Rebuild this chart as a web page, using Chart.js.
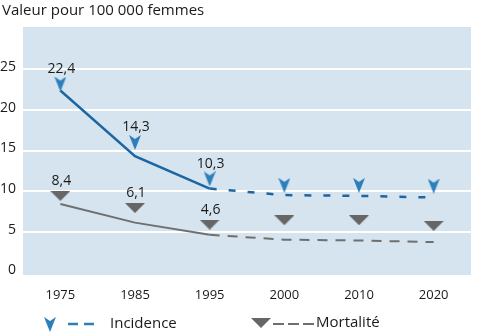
<!DOCTYPE html>
<html>
<head>
<meta charset="utf-8">
<script src="https://cdn.jsdelivr.net/npm/chart.js@4"></script>
<style>
  html, body { margin: 0; padding: 0; background: #fff; }
  #wrap { width: 479px; height: 335px; }
</style>
</head>
<body>
<div id="wrap"><canvas id="chart" width="479" height="335"></canvas></div>
<script>
/* ── Data ─────────────────────────────────────────── */
const years      = ['1975', '1985', '1995', '2000', '2010', '2020'];
const incidence  = [22.4, 14.3, 10.3, 9.5, 9.4, 9.2];
const mortality  = [8.4, 6.1, 4.6, 4.0, 3.9, 3.7];
// where the triangle markers sit on the value axis
const incidenceMarks = [23.2, 16.0, 11.5, 10.7, 10.7, 10.6];
const mortalityMarks = [9.4, 7.9, 5.85, 6.4, 6.4, 5.7];
const yTicks     = [0, 5, 10, 15, 20, 25];
const measured   = 3;   // first three years are observed, the rest projected
const seriesNames = ['Incidence', 'Mortalité'];
const axisTitle  = 'Valeur pour 100 000 femmes';

/* ── Colours ──────────────────────────────────────── */
const BLUE      = '#1d66a4';
const BLUE_MARK = '#2c7fbb';
const GREY      = '#6f6f6f';
const GREY_MARK = '#666666';
const PANEL     = '#d5e4ee';
const TEXT      = '#1a1a1a';
const FONT      = '"Open Sans", sans-serif';

const BLUE_DASH = [7, 12];
const GREY_DASH = [10, 8];

/* ── Marker images ────────────────────────────────── */
function arrowMarker(color) {
  const c = document.createElement('canvas');
  c.width = 12; c.height = 15;
  const g = c.getContext('2d');
  g.fillStyle = color;
  g.beginPath();
  g.moveTo(0, 0); g.lineTo(6, 4); g.lineTo(12, 0); g.lineTo(6, 15);
  g.closePath(); g.fill();
  return c;
}
function triangleMarker(color) {
  const c = document.createElement('canvas');
  c.width = 20; c.height = 10;
  const g = c.getContext('2d');
  g.fillStyle = color;
  g.beginPath();
  g.moveTo(0, 0); g.lineTo(20, 0); g.lineTo(10, 10);
  g.closePath(); g.fill();
  return c;
}
const blueArrow = arrowMarker(BLUE_MARK);
const greyTri   = triangleMarker(GREY_MARK);

function fmtFr(v) { return v.toFixed(1).replace('.', ','); }

/* ── Plugins ──────────────────────────────────────── */
const panel = {
  id: 'panel',
  beforeDraw(chart) {
    const a = chart.chartArea, ctx = chart.ctx;
    ctx.save();
    ctx.fillStyle = PANEL;
    ctx.fillRect(a.left, a.top, a.right - a.left, a.bottom - a.top);
    ctx.restore();
  }
};

const valueLabels = {
  id: 'valueLabels',
  afterDatasetsDraw(chart) {
    const ctx = chart.ctx;
    ctx.save();
    ctx.font = '14px ' + FONT;
    ctx.fillStyle = TEXT;
    ctx.textAlign = 'center';
    ctx.textBaseline = 'middle';
    [[2, incidence], [3, mortality]].forEach(([di, vals]) => {
      chart.getDatasetMeta(di).data.forEach((pt, i) => {
        if (i >= measured) return;
        ctx.fillText(fmtFr(vals[i]), pt.x + 1, pt.y - 15);
      });
    });
    ctx.restore();
  }
};

const headerLegend = {
  id: 'headerLegend',
  afterDraw(chart) {
    const ctx = chart.ctx;
    ctx.save();
    ctx.fillStyle = TEXT;
    ctx.textBaseline = 'middle';
    ctx.textAlign = 'left';
    ctx.font = '15px ' + FONT;
    ctx.fillText(axisTitle, 2, 11);

    // Incidence entry
    ctx.drawImage(blueArrow, 44, 317);
    ctx.strokeStyle = BLUE_MARK;
    ctx.lineWidth = 2.5;
    ctx.setLineDash([10, 6]);
    ctx.beginPath(); ctx.moveTo(68, 324); ctx.lineTo(98, 324); ctx.stroke();
    ctx.fillText(seriesNames[0], 110, 324);

    // Mortalité entry
    ctx.drawImage(greyTri, 251, 318);
    ctx.strokeStyle = GREY;
    ctx.lineWidth = 2;
    ctx.setLineDash([11, 4]);
    ctx.beginPath(); ctx.moveTo(273, 324); ctx.lineTo(316, 324); ctx.stroke();
    ctx.setLineDash([]);
    ctx.fillText(seriesNames[1], 316, 323);
    ctx.restore();
  }
};

/* ── Chart ────────────────────────────────────────── */
Chart.defaults.font.family = FONT;
Chart.defaults.color = TEXT;

new Chart(document.getElementById('chart'), {
  type: 'line',
  data: {
    labels: years,
    datasets: [
      {
        label: seriesNames[0],
        data: incidence,
        borderColor: BLUE,
        borderWidth: 2.5,
        pointRadius: 0,
        tension: 0,
        segment: { borderDash: c => c.p0DataIndex >= measured - 1 ? BLUE_DASH : undefined },
        order: 2
      },
      {
        label: seriesNames[1],
        data: mortality,
        borderColor: GREY,
        borderWidth: 2,
        pointRadius: 0,
        tension: 0,
        segment: { borderDash: c => c.p0DataIndex >= measured - 1 ? GREY_DASH : undefined },
        order: 2
      },
      {
        data: incidenceMarks,
        showLine: false,
        pointStyle: blueArrow,
        pointRadius: 7,
        order: 1
      },
      {
        data: mortalityMarks,
        showLine: false,
        pointStyle: greyTri,
        pointRadius: 7,
        order: 1
      }
    ]
  },
  options: {
    responsive: false,
    devicePixelRatio: 1,
    animation: false,
    layout: { padding: { top: 27, right: 3, left: 0, bottom: 0 } },
    plugins: {
      legend: { display: false },
      tooltip: { enabled: false }
    },
    scales: {
      x: {
        offset: true,
        grid: { display: false, drawTicks: false },
        border: { display: false },
        ticks: { font: { size: 13 }, padding: 12, maxRotation: 0 },
        afterFit: s => { s.height = 60; }
      },
      y: {
        min: -0.36,
        max: 30.24,
        afterBuildTicks: s => { s.ticks = yTicks.map(v => ({ value: v })); },
        grid: {
          drawTicks: false,
          lineWidth: 2,
          color: c => c.tick && c.tick.value === 0 ? 'rgba(0,0,0,0)' : '#ffffff'
        },
        border: { display: false },
        ticks: { font: { size: 14 }, padding: 7, labelOffset: -2 },
        afterFit: s => { s.width = 23; }
      }
    }
  },
  plugins: [panel, valueLabels, headerLegend]
});
</script>
</body>
</html>
